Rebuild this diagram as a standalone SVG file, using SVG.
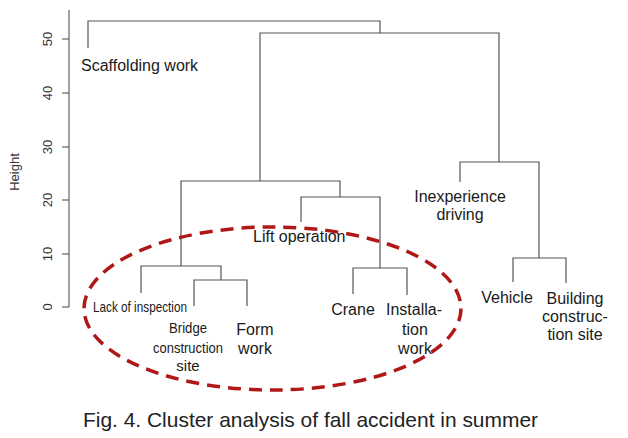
<svg xmlns="http://www.w3.org/2000/svg" width="628" height="438" viewBox="0 0 628 438">
<style>
  .tree path { fill: none; stroke: #555; stroke-width: 1.2; }
  .axis line { stroke: #444; stroke-width: 1; }
  .tick { font-family: "Liberation Sans", Arial, sans-serif; font-size: 13px; fill: #333; text-anchor: middle; }
  .lbl { font-family: "Liberation Sans", Arial, sans-serif; font-size: 16px; fill: #1a1a1a; text-anchor: middle; }
  .sm { font-family: "Liberation Sans", Arial, sans-serif; font-size: 15px; fill: #1a1a1a; text-anchor: middle; }
  .cap { font-family: "Liberation Sans", Arial, sans-serif; font-size: 21px; fill: #222; }
</style>
<rect width="628" height="438" fill="#fff"/>
<g id="axis" class="axis">
  <line x1="69" y1="10" x2="69" y2="307"/>
  <line x1="62" y1="39" x2="69" y2="39"/>
  <line x1="62" y1="93" x2="69" y2="93"/>
  <line x1="62" y1="147" x2="69" y2="147"/>
  <line x1="62" y1="200" x2="69" y2="200"/>
  <line x1="62" y1="254" x2="69" y2="254"/>
  <line x1="62" y1="307" x2="69" y2="307"/>
  <text class="tick" transform="translate(52,39) rotate(-90)">50</text>
  <text class="tick" transform="translate(52,93) rotate(-90)">40</text>
  <text class="tick" transform="translate(52,147) rotate(-90)">30</text>
  <text class="tick" transform="translate(52,200) rotate(-90)">20</text>
  <text class="tick" transform="translate(52,254) rotate(-90)">10</text>
  <text class="tick" transform="translate(52,307) rotate(-90)">0</text>
  <text class="tick" fill="#444" transform="translate(19,172) rotate(-90)">Height</text>
</g>
<g id="connectors" class="tree">
  <path d="M88,48 V21 H380 V33"/>
  <path d="M260,181 V33 H499 V162"/>
  <path d="M181,266 V181 H340 V197"/>
  <path d="M301,222 V197 H380 V268"/>
  <path d="M353,294 V268 H407 V295"/>
  <path d="M141,293 V266 H221 V280"/>
  <path d="M194,306 V280 H247 V306"/>
  <path d="M460,182 V162 H539 V258"/>
  <path d="M513,282 V258 H566 V283"/>
</g>
<g id="scaffolding"><text class="lbl" x="81" y="71" style="text-anchor:start">Scaffolding work</text></g>
<g id="lift"><text class="lbl" x="253" y="242" style="text-anchor:start">Lift operation</text></g>
<g id="inexperience"><text class="lbl" x="460" y="202">Inexperience</text><text class="lbl" x="460" y="220">driving</text></g>
<g id="vehicle"><text class="lbl" x="507" y="303">Vehicle</text></g>
<g id="building"><text class="lbl" x="575" y="304">Building</text><text class="lbl" x="575" y="322">construc-</text><text class="lbl" x="575" y="340">tion site</text></g>
<g id="crane"><text class="lbl" x="353" y="315">Crane</text></g>
<g id="installation"><text class="lbl" x="414" y="315">Installa-</text><text class="lbl" x="415" y="335">tion</text><text class="lbl" x="415" y="354">work</text></g>
<g id="formwork"><text class="lbl" x="255" y="335">Form</text><text class="lbl" x="255" y="354">work</text></g>
<g id="lack"><text class="sm" x="93" y="312" textLength="94" lengthAdjust="spacingAndGlyphs" style="text-anchor:start">Lack of inspection</text></g>
<g id="bridge"><text class="sm" x="188" y="333" textLength="38" lengthAdjust="spacingAndGlyphs">Bridge</text><text class="sm" x="188" y="353" textLength="70" lengthAdjust="spacingAndGlyphs">construction</text><text class="sm" x="188" y="371">site</text></g>
<g id="cluster-ellipse"><ellipse cx="272.5" cy="308.5" rx="188.5" ry="81.5" fill="none" stroke="#b01818" stroke-width="3.5" stroke-dasharray="13 8"/></g>
<g id="caption"><text class="cap" x="83" y="427" textLength="455" lengthAdjust="spacingAndGlyphs">Fig. 4. Cluster analysis of fall accident in summer</text></g>
</svg>
